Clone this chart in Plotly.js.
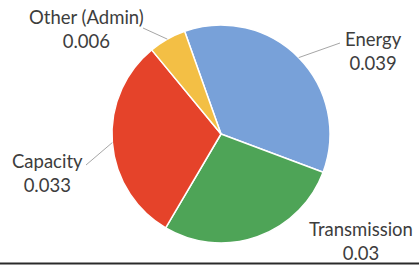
<!DOCTYPE html>
<html>
<head>
<meta charset="utf-8">
<script src="https://cdn.plot.ly/plotly-3.0.1.min.js"></script>
<style>html,body{margin:0;padding:0;background:#fff;}#chart{width:419px;height:265px;}</style>
</head>
<body>
<div id="chart"></div>
<script>
// ---- data ----
const categories = ["Energy", "Transmission", "Capacity", "Other (Admin)"];
const values = [0.039, 0.03, 0.033, 0.006];
const valueLabels = ["0.039", "0.03", "0.033", "0.006"];

// ---- styling / layout config ----
const colors = ["#78A1D9", "#4EA457", "#E5432A", "#F3BF45"];
const W = 419, H = 265;
const cx = 221, cy = 134, R = 109;           // pie placement in px
const rotation = -19.5;
// label centre positions (px) and leader-line outer ends (px, null = none)
const labelPos = [[373, 51], [361, 241], [47, 173], [86, 29]];
const leaderEnd = [[340, 43], null, [86, 165], [143, 28]];

const px = x => x / W, py = y => 1 - y / H;

const trace = {
  type: "pie",
  labels: categories,
  values: values,
  sort: false,
  direction: "clockwise",
  rotation: rotation,
  textinfo: "none",
  hoverinfo: "label+value",
  marker: { colors: colors, line: { color: "#ffffff", width: 1.5 } },
  domain: { x: [px(cx - R), px(cx + R)], y: [py(cy + R), py(cy - R)] },
  showlegend: false
};

// slice mid angles computed from the data
const total = values.reduce((a, b) => a + b, 0);
let acc = 0;
const shapes = [];
const annotations = [];
values.forEach((v, i) => {
  const mid = (rotation + (acc + v / 2) / total * 360) * Math.PI / 180;
  acc += v;
  const ex = cx + R * Math.sin(mid), ey = cy - R * Math.cos(mid);
  if (leaderEnd[i]) {
    shapes.push({ type: "line", xref: "paper", yref: "paper",
      x0: px(ex), y0: py(ey), x1: px(leaderEnd[i][0]), y1: py(leaderEnd[i][1]),
      line: { color: "#A6A6A6", width: 1 } });
  }
  annotations.push({ xref: "paper", yref: "paper", x: px(labelPos[i][0]), y: py(labelPos[i][1]),
    xanchor: "center", yanchor: "middle", showarrow: false, align: "center",
    text: categories[i] + "<br>" + valueLabels[i],
    font: { family: "Lato, 'Open Sans', sans-serif", size: 18.5, color: "#3d3d3d" } });
});
shapes.push({ type: "line", xref: "paper", yref: "paper", x0: 0, x1: 1, y0: py(263.5), y1: py(263.5),
  line: { color: "#2a2a2a", width: 2 } });

const layout = {
  width: W, height: H,
  margin: { l: 0, r: 0, t: 0, b: 0 },
  paper_bgcolor: "#ffffff",
  shapes: shapes,
  annotations: annotations
};
Plotly.newPlot("chart", [trace], layout, { displayModeBar: false, staticPlot: true });
</script>
</body>
</html>
